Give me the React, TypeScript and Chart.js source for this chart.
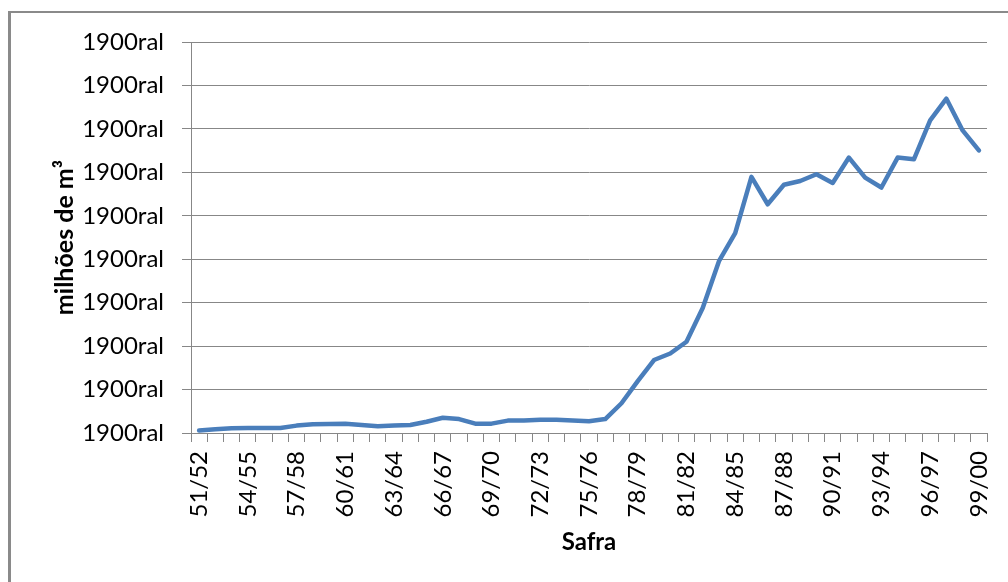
import React, { useEffect, useRef } from "react";
import { Chart, registerables } from "chart.js";

Chart.register(...registerables);

const safras = [
  "51/52", "52/53", "53/54", "54/55", "55/56", "56/57", "57/58", "58/59", "59/60", "60/61",
  "61/62", "62/63", "63/64", "64/65", "65/66", "66/67", "67/68", "68/69", "69/70", "70/71",
  "71/72", "72/73", "73/74", "74/75", "75/76", "76/77", "77/78", "78/79", "79/80", "80/81",
  "81/82", "82/83", "83/84", "84/85", "85/86", "86/87", "87/88", "88/89", "89/90", "90/91",
  "91/92", "92/93", "93/94", "94/95", "95/96", "96/97", "97/98", "98/99", "99/00",
];

// milhões de m³
const producao = [
  0.11, 0.17, 0.22, 0.23, 0.23, 0.23, 0.34, 0.4, 0.41, 0.43,
  0.37, 0.31, 0.35, 0.37, 0.52, 0.7, 0.64, 0.43, 0.43, 0.57,
  0.57, 0.61, 0.61, 0.58, 0.54, 0.64, 1.37, 2.39, 3.36, 3.66,
  4.2, 5.75, 7.91, 9.2, 11.79, 10.53, 11.43, 11.6, 11.91, 11.51,
  12.68, 11.76, 11.3, 12.68, 12.6, 14.39, 15.39, 13.93, 13.01,
];

const yTickText = "1900ral";
const yMin = 0;
const yMax = 18;
const yStep = 2;

export default function App() {
  const ref = useRef<HTMLCanvasElement | null>(null);

  useEffect(() => {
    if (!ref.current) return;
    const font = { family: "Lato", size: 24 };
    const chart = new Chart(ref.current, {
      type: "line",
      data: {
        labels: safras,
        datasets: [
          {
            data: producao,
            borderColor: "#4a7ebb",
            backgroundColor: "#4a7ebb",
            borderWidth: 4.5,
            pointRadius: 0,
            tension: 0,
            borderJoinStyle: "round",
            borderCapStyle: "round",
          },
        ],
      },
      options: {
        animation: false,
        responsive: false,
        maintainAspectRatio: false,
        layout: { padding: { left: 0, top: 42, right: 21, bottom: 0 } },
        plugins: { legend: { display: false }, tooltip: { enabled: false } },
        scales: {
          x: {
            type: "category",
            offset: true,
            afterFit: (s: any) => {
              s.height = 149;
              s.paddingLeft = 0;
              s.paddingRight = 0;
            },
            grid: {
              drawOnChartArea: false,
              offset: true,
              tickLength: 9,
              color: "#878787",
            },
            border: { color: "#878787", width: 1 },
            ticks: {
              autoSkip: false,
              maxRotation: 90,
              minRotation: 90,
              padding: 9,
              color: "#000",
              font,
              callback: (_v: any, i: number) => (i % 3 === 0 ? safras[i] : ""),
            },
            title: {
              display: true,
              text: "Safra",
              color: "#000",
              font: { family: "Lato", size: 24, weight: "bold" },
              padding: { top: 0, bottom: 25 },
            },
          },
          y: {
            min: yMin,
            max: yMax,
            afterFit: (s: any) => {
              s.width = 191;
            },
            grid: { color: "#878787", tickLength: 9 },
            border: { color: "#878787", width: 1 },
            ticks: {
              stepSize: yStep,
              padding: 18,
              color: "#000",
              font,
              callback: () => yTickText,
            },
            title: {
              display: true,
              text: "milhões de m³",
              color: "#000",
              font: { family: "Lato", size: 25, weight: "bold" },
              padding: { top: 50, bottom: 0 },
            },
          },
        },
      },
    });
    return () => chart.destroy();
  }, []);

  return (
    <div
      style={{
        position: "fixed",
        left: 0,
        top: 0,
        width: 1008,
        height: 582,
        background: "#fff",
        overflow: "hidden",
      }}
    >
      <div
        style={{
          position: "absolute",
          left: 8,
          top: 11,
          width: 1010,
          height: 590,
          borderTop: "2px solid #8a8a8a",
          borderLeft: "3px solid #8a8a8a",
          boxSizing: "border-box",
        }}
      />
      <canvas
        ref={ref}
        width={1008}
        height={582}
        style={{ position: "absolute", left: 0, top: 0, width: 1008, height: 582 }}
      />
    </div>
  );
}
